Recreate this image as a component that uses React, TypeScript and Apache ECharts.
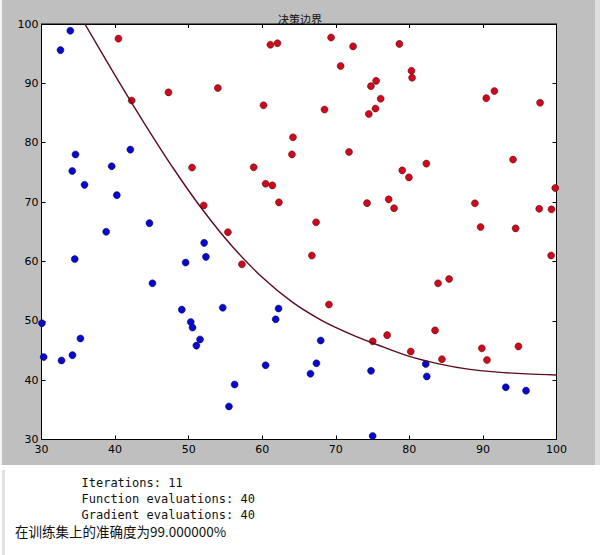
import React, { useEffect, useRef } from "react";
import * as echarts from "echarts";

const chartTitle = "决策边界";

// Admitted (y = 1): exam 1 score, exam 2 score
const admittedExam1 = [60.18, 79.03, 61.11, 75.02, 76.1, 84.43, 82.31, 69.36, 53.97, 69.07, 70.66, 76.98, 89.68, 77.92, 62.27, 80.19, 61.38, 85.4, 52.05, 64.18, 83.9, 94.44, 77.19, 97.77, 62.07, 91.56, 79.94, 99.27, 90.55, 97.65, 74.25, 71.8, 75.4, 40.46, 80.28, 66.75, 64.04, 72.35, 60.46, 58.84, 99.83, 47.26, 50.46, 88.91, 94.83, 67.32, 57.24, 80.37, 68.47, 75.48, 78.64, 94.09, 90.45, 74.49, 89.85, 83.49, 42.26, 99.32, 55.34, 74.78];
const admittedExam2 = [86.31, 75.34, 96.51, 46.55, 87.42, 43.53, 76.48, 97.72, 89.21, 52.74, 92.93, 47.58, 65.8, 68.97, 69.95, 44.82, 72.81, 57.05, 69.43, 80.91, 56.31, 65.57, 70.46, 86.73, 96.77, 88.7, 74.16, 61.0, 43.39, 68.86, 69.82, 78.45, 85.76, 97.54, 92.12, 60.99, 78.03, 96.23, 73.09, 75.86, 72.37, 88.48, 75.81, 69.8, 45.69, 66.59, 59.51, 90.96, 85.59, 90.42, 96.65, 77.16, 87.51, 84.85, 45.36, 48.38, 87.1, 68.78, 64.93, 89.53];

// Not admitted (y = 0)
const rejectedExam1 = [34.62, 30.29, 35.85, 45.08, 95.86, 75.01, 39.54, 67.95, 67.37, 50.53, 34.21, 93.11, 61.83, 38.79, 52.11, 40.24, 54.64, 33.92, 74.79, 34.18, 51.55, 82.37, 51.05, 62.22, 34.52, 50.29, 49.59, 32.58, 35.29, 56.25, 30.06, 44.67, 66.56, 49.07, 32.72, 60.46, 82.23, 42.08, 52.35, 55.48];
const rejectedExam2 = [78.02, 43.89, 72.9, 56.32, 38.23, 30.6, 76.04, 46.68, 42.84, 48.86, 44.21, 38.8, 50.26, 65.0, 63.13, 71.17, 52.21, 98.87, 41.57, 75.24, 46.86, 40.62, 45.82, 52.06, 60.4, 49.8, 59.81, 95.6, 47.02, 39.26, 49.59, 66.45, 41.09, 51.88, 43.31, 42.51, 42.72, 78.84, 60.77, 35.57];

// Decision boundary
const boundaryExam1 = [35.9, 40, 44, 48, 52, 56, 60, 64, 68, 72, 76, 80, 84, 88, 92, 96, 100];
const boundaryExam2 = [100, 91.35, 83.23, 75.53, 68.53, 62.43, 57.33, 53.23, 50.13, 47.77, 45.79, 44.0, 42.75, 41.85, 41.35, 41.05, 40.87];

const axisMin = 30;
const axisMax = 100;
const axisStep = 10;

const outputLines = ["Iterations: 11", "Function evaluations: 40", "Gradient evaluations: 40"];
const accuracyText = "在训练集上的准确度为99.000000%";

const zip = (a: number[], b: number[]) => a.map((v, i) => [v, b[i]]);

export default function App() {
  const ref = useRef<HTMLDivElement>(null);

  useEffect(() => {
    if (!ref.current) return;
    const chart = echarts.init(ref.current, undefined, { renderer: "svg" });

    const axisCommon = {
      type: "value" as const,
      min: axisMin,
      max: axisMax,
      interval: axisStep,
      splitLine: { show: false },
      axisLine: { show: true, onZero: false, lineStyle: { color: "#000", width: 1 } },
      axisTick: { show: true, inside: true, length: 4, lineStyle: { color: "#000" } },
    };

    const labelStyle = {
      color: "#000",
      fontSize: 11,
      fontFamily: "DejaVu Sans",
    };

    chart.setOption({
      animation: false,
      backgroundColor: "#bfbfbf",
      title: {
        text: chartTitle,
        left: "center",
        top: 8,
        textStyle: {
          fontSize: 11,
          fontWeight: "normal",
          color: "#111",
          fontFamily: "Noto Sans CJK SC",
        },
      },
      grid: {
        left: 41.5,
        top: 24,
        right: 43.5,
        bottom: 115.5,
        show: true,
        backgroundColor: "#ffffff",
        borderColor: "#000",
        borderWidth: 1,
      },
      xAxis: [
        { ...axisCommon, position: "bottom", axisLabel: { ...labelStyle, margin: 4 } },
        { ...axisCommon, position: "top", axisLabel: { show: false } },
      ],
      yAxis: [
        { ...axisCommon, position: "left", axisLabel: { ...labelStyle, margin: 3 } },
        { ...axisCommon, position: "right", axisLabel: { show: false } },
      ],
      series: [
        {
          type: "scatter",
          name: "Not admitted",
          data: zip(rejectedExam1, rejectedExam2),
          symbol: "circle",
          symbolSize: 7,
          itemStyle: { color: "#0808cc", borderColor: "#000050", borderWidth: 0.5, opacity: 1 },
          z: 3,
        },
        {
          type: "scatter",
          name: "Admitted",
          data: zip(admittedExam1, admittedExam2),
          symbol: "circle",
          symbolSize: 7,
          itemStyle: { color: "#cc0a1e", borderColor: "#500000", borderWidth: 0.5, opacity: 1 },
          z: 3,
        },
        {
          type: "line",
          name: "Decision boundary",
          data: zip(boundaryExam1, boundaryExam2),
          smooth: 0.3,
          showSymbol: false,
          symbol: "none",
          lineStyle: { color: "#5c0c1e", width: 1.4 },
          z: 4,
        },
      ],
      graphic: [
        {
          type: "rect",
          shape: { x: 0, y: 465, width: 600, height: 90 },
          style: { fill: "#ffffff" },
          silent: true,
        },
        {
          type: "rect",
          shape: { x: 0, y: 0, width: 2, height: 465 },
          style: { fill: "#f4f4f4" },
          silent: true,
        },
        {
          type: "rect",
          shape: { x: 595, y: 0, width: 5, height: 465 },
          style: { fill: "#dedede" },
          silent: true,
        },
        {
          type: "rect",
          shape: { x: 2, y: 470, width: 3, height: 85 },
          style: { fill: "#e2e2e2" },
          silent: true,
        },
        ...outputLines.map((line, i) => ({
          type: "text",
          x: 81.5,
          y: 482.5 + i * 16,
          style: {
            text: line,
            font: "12px 'DejaVu Sans Mono'",
            fill: "#111",
            textVerticalAlign: "middle",
          },
          silent: true,
        })),
        {
          type: "text",
          x: 15,
          y: 530.5,
          style: {
            text: accuracyText,
            font: "13.5px 'Noto Sans CJK SC'",
            fill: "#111",
            textVerticalAlign: "middle",
          },
          silent: true,
        },
      ],
    });

    return () => chart.dispose();
  }, []);

  return (
    <div
      ref={ref}
      style={{ position: "absolute", left: 0, top: 0, width: 600, height: 555, background: "#fff" }}
    />
  );
}
